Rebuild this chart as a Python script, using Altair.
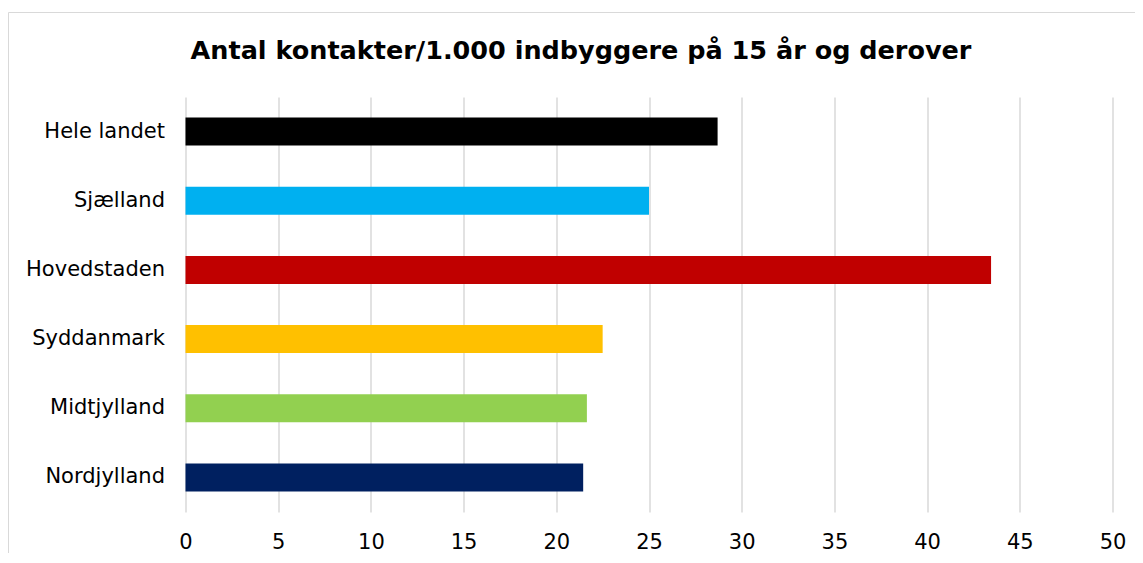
import altair as alt
import pandas as pd

regions = ["Hele landet", "Sjælland", "Hovedstaden", "Syddanmark", "Midtjylland", "Nordjylland"]
values = [28.7, 25.0, 43.45, 22.5, 21.65, 21.45]
colors = ["#000000", "#00B0F0", "#C00000", "#FFC000", "#92D050", "#002060"]
ticks = [0, 5, 10, 15, 20, 25, 30, 35, 40, 45, 50]
title = "Antal kontakter/1.000 indbyggere på 15 år og derover"

df = pd.DataFrame({"region": regions, "value": values, "color": colors})

W, H = 927, 415
FONT = "DejaVu Sans"

bars = alt.Chart(df).mark_bar().encode(
    y=alt.Y("region:N", sort=regions, title=None,
            scale=alt.Scale(paddingInner=0.595, paddingOuter=0.2975),
            axis=alt.Axis(domain=False, ticks=False, labelPadding=21,
                          labelFontSize=21, labelColor="#000000", labelFont=FONT)),
    x=alt.X("value:Q", title=None,
            scale=alt.Scale(domain=[0, 50], nice=False),
            axis=alt.Axis(values=ticks, domain=False, ticks=False, grid=True,
                          gridColor="#d9d9d9", gridWidth=1.5, labelPadding=19,
                          labelFontSize=21, labelColor="#000000", labelFont=FONT,
                          labelFlush=False)),
    color=alt.Color("color:N", scale=None, legend=None),
)

frame = alt.Chart(pd.DataFrame({"a": [0]})).mark_rect(
    fill=None, stroke="#d9d9d9", strokeWidth=1, clip=False
).encode(
    x=alt.value(-177), x2=alt.value(W + 60),
    y=alt.value(-84.5), y2=alt.value(H + 80),
)

title_text = alt.Chart(pd.DataFrame({"t": [title]})).mark_text(
    font=FONT, fontSize=25.5, fontWeight="bold", color="#000000",
    align="center", baseline="alphabetic", clip=False
).encode(
    text="t:N", x=alt.value(395.5), y=alt.value(-38.5),
)

chart = alt.layer(frame, bars, title_text).properties(
    width=W, height=H,
    autosize=alt.AutoSizeParams(type="none"),
    padding={"left": 177.5, "top": 89, "right": 22.5, "bottom": 41},
    background="white",
).configure_view(strokeWidth=0)

chart.save("out.html", embed_options={"renderer": "svg", "actions": False})
